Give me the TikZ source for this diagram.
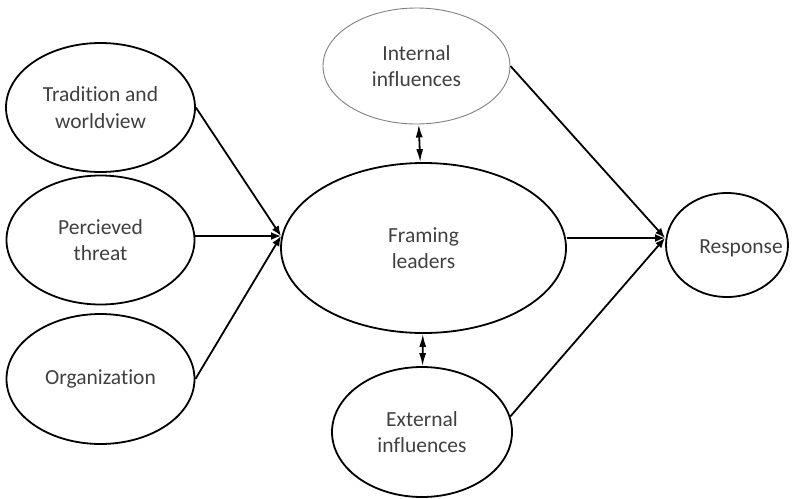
\documentclass[tikz,border=0pt]{standalone}
\usepackage{fontspec}
\setmainfont[Ligatures=NoCommon]{Carlito}
\usetikzlibrary{shapes.geometric,arrows.meta}
\definecolor{txtgray}{RGB}{64,64,64}
\begin{document}
\begin{tikzpicture}[x=1pt,y=-1pt,
  words/.style={text=txtgray,font=\fontsize{21.5}{26.5}\selectfont},
  bubble/.style={ellipse,draw,line width=1.8pt,inner sep=0pt,align=center,words},
  link/.style={line width=1.8pt,-{Latex[length=10pt,width=8pt]}},
  both/.style={line width=1.8pt,{Latex[length=13pt,width=7pt]}-{Latex[length=13pt,width=7pt]}}]
\useasboundingbox (0,0) rectangle (794,498);
% left column
\node (trad) [bubble,minimum width=189pt,minimum height=129pt] at (100.5,107.5) {Tradition and\\worldview};
\node (perc) [bubble,minimum width=188pt,minimum height=129pt] at (100.5,240) {Percieved\\threat};
\node (org) [bubble,minimum width=188pt,minimum height=130pt] at (100.5,379) {Organization};
% middle
\node (fram) [bubble,minimum width=285pt,minimum height=170pt] at (423.5,248) {Framing\\leaders};
\node (intl) [bubble,draw=gray,line width=0.9pt,minimum width=187pt,minimum height=116pt] at (416.5,66) {Internal\\influences};
\node (extl) [bubble,minimum width=180pt,minimum height=130pt] at (422,432) {External\\influences};
% right
\node (resp) [bubble,minimum width=122pt,minimum height=104pt,
  label={[words,xshift=14pt,yshift=-3pt]center:Response}] at (727,245) {};
\coordinate (fin) at (281,236);
\coordinate (rin) at (665,238);
\draw [link] (trad.east) -- (fin);
\draw [link] (perc.east |- fin) -- (fin);
\draw [link] (org.east) -- (fin);
\draw [link] (intl.east) -- (rin);
\draw [link] (fram.east |- rin) -- (rin);
\draw [link] (extl.10) -- (rin);
\draw [both] (intl) -- (fram);
\draw [both] (extl) -- (fram);
\end{tikzpicture}
\end{document}
